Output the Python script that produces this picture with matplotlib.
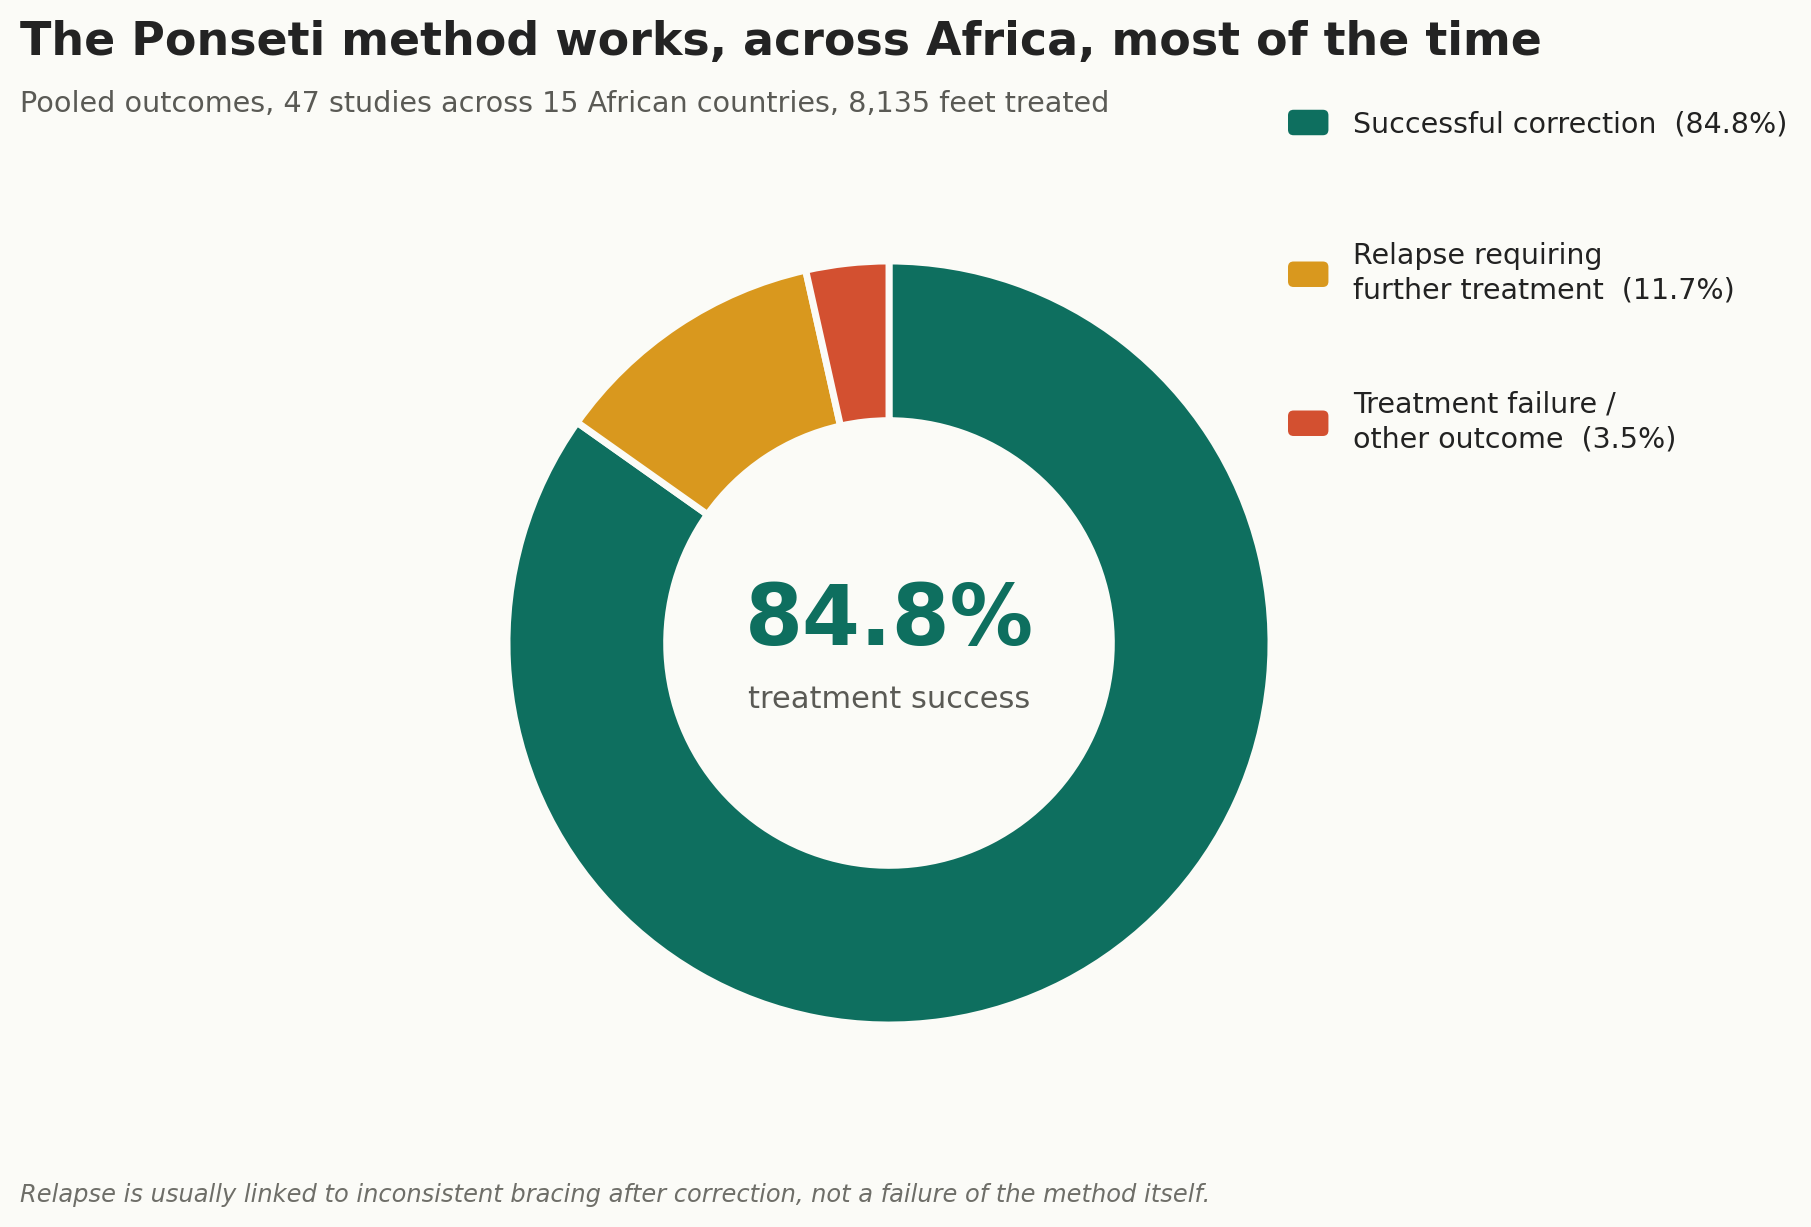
import matplotlib
matplotlib.use("Agg")
import matplotlib.pyplot as plt
from matplotlib.patches import FancyBboxPatch
from matplotlib.legend_handler import HandlerPatch

categories = ["Successful correction", "Relapse requiring\nfurther treatment",
              "Treatment failure /\nother outcome"]
shares = [84.8, 11.7, 3.5]
colors = ["#0E6F5F", "#D9981E", "#D35030"]

title = "The Ponseti method works, across Africa, most of the time"
subtitle = "Pooled outcomes, 47 studies across 15 African countries, 8,135 feet treated"
footnote = "Relapse is usually linked to inconsistent bracing after correction, not a failure of the method itself."
center_value = "84.8%"
center_label = "treatment success"

bg = "#FBFBF7"
W, H = 1811, 1227


class RoundHandler(HandlerPatch):
    def create_artists(self, legend, orig_handle, xdescent, ydescent,
                       width, height, fontsize, trans):
        p = FancyBboxPatch((-xdescent, -ydescent), width, height,
                           boxstyle="round,pad=0,rounding_size=4",
                           facecolor=orig_handle.get_facecolor(),
                           edgecolor="none", transform=trans)
        return [p]


fig = plt.figure(figsize=(W / 100, H / 100), dpi=100, facecolor=bg)

cx, cy, r = 889, 643, 382
ax = fig.add_axes([(cx - r) / W, (H - cy - r) / H, 2 * r / W, 2 * r / H])
ax.set_facecolor(bg)
wedges, _ = ax.pie(shares, colors=colors, startangle=90, counterclock=False,
                   radius=1, wedgeprops=dict(width=0.418, edgecolor=bg, linewidth=5))
ax.set_xlim(-1, 1)
ax.set_ylim(-1, 1)
ax.set_aspect("equal")

ax.text(0, -0.005, center_value, ha="center", va="baseline", fontsize=60,
        fontweight="bold", color="#0E6F5F")
ax.text(0, -0.17, center_label, ha="center", va="baseline", fontsize=22,
        color="#5A5A55")

# one legend per entry so the rows sit evenly spaced like the original
labels = [f"{c}  ({s:.1f}%)" for c, s in zip(categories, shares)]
row_y = [124, 273, 422]
for w, lab, yy in zip(wedges, labels, row_y):
    leg = fig.legend([w], [lab], loc="center left",
                     bbox_to_anchor=(1288 / W, 1 - yy / H), frameon=False,
                     fontsize=20.5, handlelength=1.42, handleheight=1.0,
                     handletextpad=0.85, borderpad=0, borderaxespad=0,
                     labelcolor="#222222", handler_map={w: RoundHandler()})
    for t in leg.get_texts():
        t.set_linespacing(1.3)

fig.text(20 / W, 1 - 55 / H, title, ha="left", va="baseline", fontsize=33,
         fontweight="bold", color="#232323")
fig.text(20 / W, 1 - 112 / H, subtitle, ha="left", va="baseline", fontsize=20.6,
         color="#5A5A55")
fig.text(20 / W, 1 - 1202 / H, footnote, ha="left", va="baseline", fontsize=17.4,
         style="italic", color="#6E6E68")

fig.savefig("out.png", dpi=100, facecolor=bg)
